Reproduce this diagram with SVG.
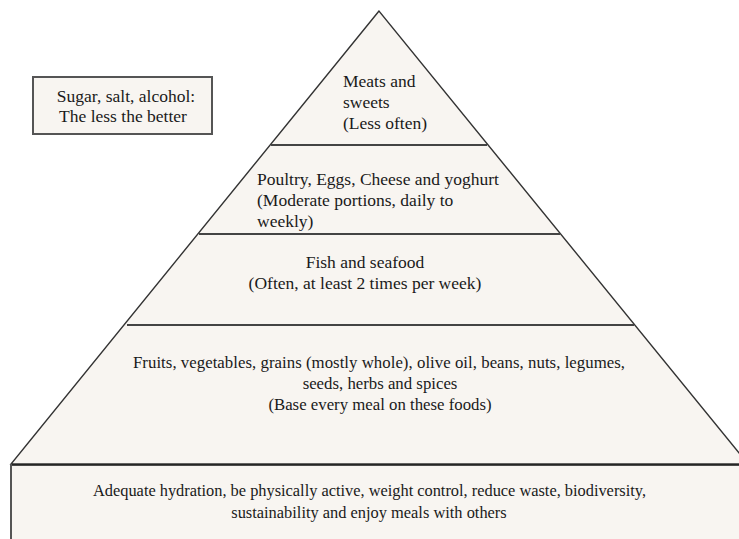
<svg xmlns="http://www.w3.org/2000/svg" width="739" height="539" viewBox="0 0 739 539">
  <style>
    .t { font-family: "Liberation Serif", "Times New Roman", serif; font-size: 17.5px; fill: #1a1a1a; }
    .s { font-size: 16.8px; }
    .b { font-size: 16.4px; }
    .c { text-anchor: middle; }
    .fill { fill: #f8f5f1; }
    .edge { fill: none; stroke: #333333; stroke-width: 1.4; }
    .div { fill: none; stroke: #444444; stroke-width: 2; }
  </style>
  <rect x="0" y="0" width="739" height="539" fill="#ffffff"/>

  <g id="pyramid">
    <polygon class="fill" points="379,11 11,464 748,464"/>
    <polygon class="edge" points="379,11 11,464 748,464"/>
  </g>

  <g id="base-rect">
    <rect class="fill" x="11" y="465" width="740" height="80"/>
    <line x1="11" y1="465" x2="739" y2="465" stroke="#111111" stroke-width="1.6"/>
    <line x1="11" y1="464" x2="11" y2="539" stroke="#555555" stroke-width="2"/>
    <text class="t b c" x="369.5" y="496" textLength="553">Adequate hydration, be physically active, weight control, reduce waste, biodiversity,</text>
    <text class="t b c" x="369" y="518">sustainability and enjoy meals with others</text>
  </g>

  <g id="connectors">
    <line class="div" x1="271" y1="145" x2="487" y2="145"/>
    <line class="div" x1="199" y1="234" x2="560" y2="234"/>
    <line class="div" x1="127" y1="325" x2="634" y2="325"/>
  </g>

  <g id="tier-meats">
    <text class="t" x="343" y="87">Meats and</text>
    <text class="t" x="343" y="108">sweets</text>
    <text class="t" x="343" y="129">(Less often)</text>
  </g>

  <g id="tier-poultry">
    <text class="t" x="257" y="185">Poultry, Eggs, Cheese and yoghurt</text>
    <text class="t" x="257" y="206">(Moderate portions, daily to</text>
    <text class="t" x="257" y="227">weekly)</text>
  </g>

  <g id="tier-fish">
    <text class="t c" x="365" y="268">Fish and seafood</text>
    <text class="t c" x="365" y="289">(Often, at least 2 times per week)</text>
  </g>

  <g id="tier-plants">
    <text class="t s c" x="379" y="368" textLength="492">Fruits, vegetables, grains (mostly whole), olive oil, beans, nuts, legumes,</text>
    <text class="t s c" x="380" y="389">seeds, herbs and spices</text>
    <text class="t s c" x="380" y="410">(Base every meal on these foods)</text>
  </g>

  <g id="note-box">
    <rect class="fill" x="33" y="77" width="179" height="57" stroke="#555555" stroke-width="2"/>
    <text class="t c" x="126" y="102">Sugar, salt, alcohol:</text>
    <text class="t c" x="123" y="122">The less the better</text>
  </g>
</svg>
